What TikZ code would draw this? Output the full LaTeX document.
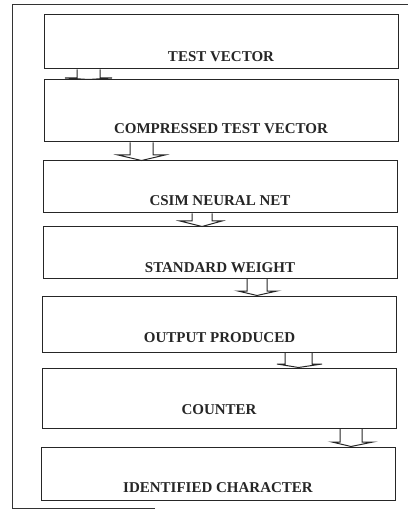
\documentclass[tikz,border=0pt]{standalone}
\usepackage{fontspec}
\setmainfont{Liberation Serif}
\begin{document}
\begin{tikzpicture}[x=1pt,y=1pt,
  stage/.style={draw=black!85, line width=1pt, rectangle, inner sep=0pt, minimum width=354pt},
  lbl/.style={font=\bfseries\fontsize{15}{17}\selectfont, text=black!85, inner sep=0pt},
  blockarrow/.style={draw=black!85, line width=1pt, line join=miter},
  frameline/.style={draw=black!80, line width=0.8pt}]
\useasboundingbox (0,0) rectangle (408,-510);
% outer frame (partial)
\coordinate (f1) at (12,-508);
\coordinate (f2) at (12,-4);
\coordinate (f3) at (408,-4);
\coordinate (f4) at (155,-508);
\draw[frameline] (f4) -- (f1) -- (f2) -- (f3);
% boxes
\node[stage, minimum height=54pt] (b1) at (221,-42) {};
\node[stage, minimum height=62pt] (b2) at (221,-111) {};
\node[stage, minimum height=52pt] (b3) at (220,-187) {};
\node[stage, minimum height=51pt] (b4) at (220,-252.5) {};
\node[stage, minimum height=56pt] (b5) at (219.5,-324) {};
\node[stage, minimum height=60pt] (b6) at (219,-398) {};
\node[stage, minimum height=53pt] (b7) at (218,-473.5) {};
% labels
\node[lbl] (t1) at ([yshift=13pt]b1.south) {TEST VECTOR};
\node[lbl] (t2) at ([yshift=14pt]b2.south) {COMPRESSED TEST VECTOR};
\node[lbl] (t3) at ([yshift=13pt]b3.south) {CSIM NEURAL NET};
\node[lbl] (t4) at ([yshift=11pt]b4.south) {STANDARD WEIGHT};
\node[lbl] (t5) at ([yshift=15pt]b5.south) {OUTPUT PRODUCED};
\node[lbl] (t6) at ([yshift=19pt]b6.south) {COUNTER};
\node[lbl] (t7) at ([yshift=13pt]b7.south) {IDENTIFIED CHARACTER};
% block arrows
\draw[blockarrow] (b1.south -| 77,0) -- (77,-78) -- (65,-78) -- (b2.north -| 88.5,0) -- (112,-78) -- (100,-78) -- (b1.south -| 100,0);
\draw[blockarrow] (b2.south -| 130,0) -- (130,-155) -- (118,-155) -- (b3.north -| 141.5,0) -- (165,-155) -- (153,-155) -- (b2.south -| 153,0);
\draw[blockarrow] (b3.south -| 192,0) -- (192,-221) -- (180,-221) -- (b4.north -| 202,0) -- (222,-221) -- (212,-221) -- (b3.south -| 212,0);
\draw[blockarrow] (b4.south -| 247,0) -- (247,-291) -- (238,-291) -- (b5.north -| 257,0) -- (277,-291) -- (267,-291) -- (b4.south -| 267,0);
\draw[blockarrow] (b5.south -| 285,0) -- (285,-364) -- (277,-364) -- (b6.north -| 298.5,0) -- (322,-364) -- (312,-364) -- (b5.south -| 312,0);
\draw[blockarrow] (b6.south -| 340,0) -- (340,-442) -- (332,-442) -- (b7.north -| 351,0) -- (373,-442) -- (362,-442) -- (b6.south -| 362,0);
\end{tikzpicture}
\end{document}
